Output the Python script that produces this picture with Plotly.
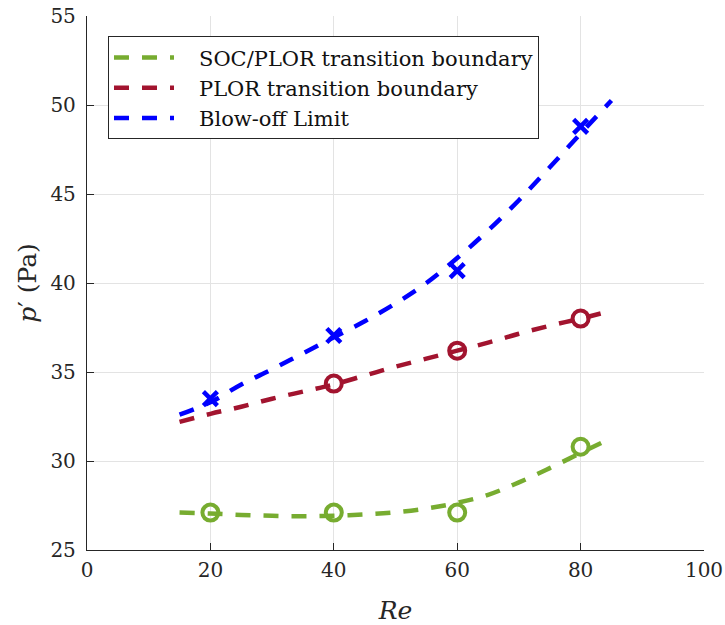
import plotly.graph_objects as go

# Measured data points
soc_pts_x = [20, 40, 60, 80]
soc_pts_y = [27.1, 27.1, 27.1, 30.8]
plor_pts_x = [40, 60, 80]
plor_pts_y = [34.35, 36.2, 38.0]
blow_pts_x = [20, 40, 60, 80]
blow_pts_y = [33.5, 37.05, 40.7, 48.8]

# Fitted boundary curves
fit_x = [15, 20, 25, 30, 35, 40, 45, 50, 55, 60, 65, 70, 75, 80, 85]
soc_fit = [27.1, 27.05, 26.97, 26.92, 26.9, 26.93, 27.0, 27.12, 27.33, 27.65, 28.1, 28.8, 29.6, 30.45, 31.3]
plor_fit = [32.2, 32.65, 33.05, 33.5, 33.9, 34.3, 34.8, 35.3, 35.75, 36.2, 36.65, 37.15, 37.6, 38.0, 38.45]
blow_fit = [32.6, 33.3, 34.3, 35.15, 36.05, 36.95, 37.85, 38.85, 40.0, 41.4, 42.95, 44.65, 46.5, 48.4, 50.25]

series_names = ["SOC/PLOR transition boundary", "PLOR transition boundary", "Blow-off Limit"]

x_ticks = [0, 20, 40, 60, 80, 100]
y_ticks = [25, 30, 35, 40, 45, 50, 55]

GREEN = "#77AC30"
RED = "#A2142F"
BLUE = "#0000FF"
DASH = "15px,13px"
FONT = "DejaVu Serif"
PAD = "&nbsp;&nbsp;&nbsp;"

fig = go.Figure()

for xs, ys, col, nm in [(fit_x, soc_fit, GREEN, series_names[0]),
                        (fit_x, plor_fit, RED, series_names[1]),
                        (fit_x, blow_fit, BLUE, series_names[2])]:
    fig.add_trace(go.Scatter(x=xs, y=ys, mode="lines", line_shape="spline",
                             line=dict(color=col, width=4.5, dash=DASH),
                             name=PAD + nm))

fig.add_trace(go.Scatter(x=soc_pts_x, y=soc_pts_y, mode="markers", showlegend=False,
                         marker=dict(symbol="circle-open", size=16, color=GREEN,
                                     line=dict(width=4, color=GREEN))))
fig.add_trace(go.Scatter(x=plor_pts_x, y=plor_pts_y, mode="markers", showlegend=False,
                         marker=dict(symbol="circle-open", size=16, color=RED,
                                     line=dict(width=4, color=RED))))
fig.add_trace(go.Scatter(x=blow_pts_x, y=blow_pts_y, mode="markers", showlegend=False,
                         marker=dict(symbol="x-thin-open", size=14, color=BLUE,
                                     line=dict(width=4.5, color=BLUE))))

axis_common = dict(
    showgrid=True, gridcolor="#E3E3E3", gridwidth=1,
    showline=True, linecolor="#262626", linewidth=1.3,
    ticks="inside", ticklen=7, tickcolor="#262626", tickwidth=1.3,
    zeroline=False, mirror=False, automargin=False,
    tickfont=dict(family=FONT, size=20, color="#262626"),
)

fig.update_layout(
    width=725, height=625,
    margin=dict(l=87, r=21, t=16, b=75),
    plot_bgcolor="white", paper_bgcolor="white",
    font=dict(family=FONT, color="#262626"),
    xaxis=dict(range=[0, 100], tickvals=x_ticks, ticktext=[str(v) for v in x_ticks],
               ticklabelstandoff=2,
               title=dict(text="<i>Re</i>", font=dict(family=FONT, size=25), standoff=20),
               **axis_common),
    yaxis=dict(range=[25, 55], tickvals=y_ticks, ticktext=[str(v) for v in y_ticks],
               ticklabelstandoff=6,
               title=dict(text="<i>p</i>′ (Pa)", font=dict(family=FONT, size=25), standoff=6),
               **axis_common),
    legend=dict(x=0.034, y=0.962, xanchor="left", yanchor="top",
                bgcolor="white", bordercolor="#262626", borderwidth=1,
                font=dict(family=FONT, size=21, color="#111111"),
                itemwidth=60, tracegroupgap=0),
    showlegend=True,
)

fig.write_html("out.html")
